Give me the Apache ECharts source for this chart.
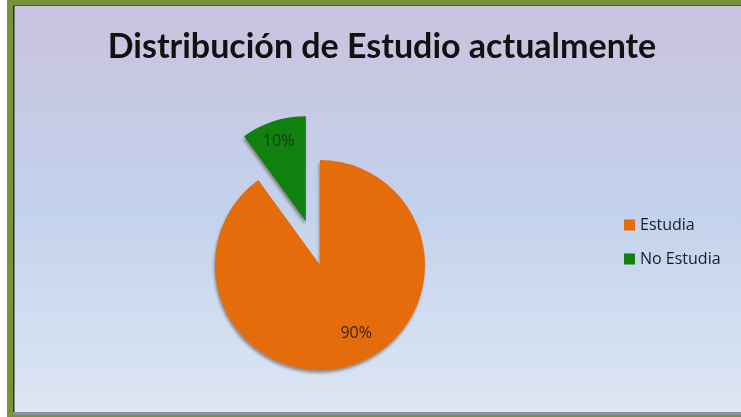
<!DOCTYPE html>
<html>
<head>
<meta charset="utf-8">
<script src="https://cdn.jsdelivr.net/npm/echarts@6/dist/echarts.min.js"></script>
<style>
html,body{margin:0;padding:0;background:#ffffff;}
#chart{width:741px;height:417px;}
</style>
</head>
<body>
<div id="chart"></div>
<script>
const titleText = 'Distribución de Estudio actualmente';
const categories = ['Estudia', 'No Estudia'];
const values = [90, 10];
const colors = ['#E46C0A', '#10800F'];
const labelColors = ['#3a2612', '#12391a'];
const labelShift = [[19, 16], [-10, -27]];

const chart = echarts.init(document.getElementById('chart'), null, {renderer: 'canvas'});
chart.setOption({
  animation: false,
  backgroundColor: 'transparent',
  graphic: [
    {type: 'rect', z: -10, shape: {x: 13, y: 5, width: 728, height: 410},
      style: {fill: new echarts.graphic.LinearGradient(0, 0, 0, 1, [
        {offset: 0, color: '#CAC2DE'},
        {offset: 0.5, color: '#C3D2EC'},
        {offset: 1, color: '#DDE6F3'}
      ])}},
    {type: 'rect', z: -5, shape: {x: 7, y: 0, width: 734, height: 5}, style: {fill: '#77933C'}},
    {type: 'rect', z: -5, shape: {x: 7, y: 0, width: 6, height: 417}, style: {fill: '#77933C'}},
    {type: 'rect', z: -5, shape: {x: 7, y: 415, width: 734, height: 2}, style: {fill: '#77933C'}},
    {type: 'rect', z: -4, shape: {x: 13, y: 5, width: 1.5, height: 410}, style: {fill: '#2b3320'}},
    {type: 'rect', z: -4, shape: {x: 13, y: 5, width: 728, height: 1}, style: {fill: '#4a5a30'}},
    {type: 'rect', z: -4, shape: {x: 13, y: 412, width: 728, height: 3}, style: {fill: '#8c9199'}}
  ],
  title: {
    text: titleText,
    left: 377,
    textAlign: 'center',
    top: 25,
    textStyle: {fontFamily: 'Lato', fontWeight: 'bold', fontSize: 34, color: '#111111'}
  },
  legend: {
    orient: 'vertical',
    left: 619,
    top: 212,
    itemWidth: 11,
    itemHeight: 11,
    itemGap: 18,
    icon: 'rect',
    selectedMode: false,
    textStyle: {fontFamily: 'Open Sans', fontSize: 16, color: '#1a1a2a'},
    data: categories
  },
  series: [{
    type: 'pie',
    center: [320, 265],
    radius: 105,
    startAngle: 90,
    clockwise: true,
    selectedMode: 'single',
    selectedOffset: 46,
    avoidLabelOverlap: false,
    emphasis: {disabled: true},
    itemStyle: {shadowColor: 'rgba(60,40,20,0.45)', shadowBlur: 3, shadowOffsetX: -1, shadowOffsetY: 3},
    label: {
      show: true,
      position: 'inside',
      formatter: '{d}%',
      fontFamily: 'Open Sans',
      fontSize: 16
    },
    labelLine: {show: false},
    labelLayout: function (p) {
      const s = labelShift[p.dataIndex];
      return {dx: s[0], dy: s[1]};
    },
    data: categories.map((c, i) => ({
      name: c,
      value: values[i],
      selected: i === 1,
      itemStyle: {color: colors[i]},
      label: {color: labelColors[i]}
    }))
  }]
});
</script>
</body>
</html>
